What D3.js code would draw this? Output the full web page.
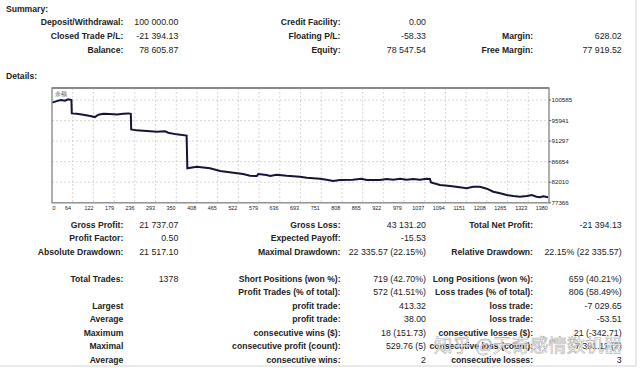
<!DOCTYPE html>
<html>
<head>
<meta charset="utf-8">
<script src="https://cdn.jsdelivr.net/npm/d3@7"></script>
<style>
  body { margin: 0; background: #fff; }
  svg text { font-family: "Liberation Sans", Arial, sans-serif; fill: #222; }
  .lbl { font-weight: bold; }
</style>
</head>
<body>
<svg width="640" height="370"></svg>
<script>
// balance curve: trade number -> balance
var tradeNo = [0, 13, 24, 36, 45, 54, 55, 69, 87, 106, 119, 129, 143, 161, 180, 198, 212, 219,
  220, 235, 263, 291, 314, 323, 346, 374, 376, 402, 439, 467, 504, 531, 550, 569, 573, 596, 606,
  624, 652, 689, 708, 744, 763, 781, 800, 836, 860, 874, 911, 930, 948, 967, 985, 1004, 1022,
  1041, 1050, 1053, 1078, 1106, 1133, 1152, 1170, 1189, 1208, 1226, 1245, 1263, 1282, 1300,
  1319, 1333, 1346, 1356, 1365, 1378];
var balance = [100000, 100342, 100568, 100410, 100726, 100568, 97566, 97476, 97250, 96957, 96731,
  97250, 97476, 97408, 97340, 97476, 97566, 97476, 93955, 93729, 93571, 93413, 93503, 93188,
  92826, 92556, 85153, 85514, 85153, 84543, 84160, 83866, 83482, 83415, 83866, 83640, 83415,
  83708, 83482, 83257, 83031, 82805, 82580, 82286, 82512, 82580, 82805, 82512, 82512, 82738,
  82580, 82805, 82580, 82738, 82580, 82805, 82738, 81948, 81383, 81158, 80864, 80639, 81000,
  81000, 80548, 79871, 79510, 79126, 78901, 78743, 78901, 79126, 78743, 78607, 78833, 78606];

var xTicks = [0, 64, 122, 179, 236, 293, 350, 408, 465, 522, 579, 636, 693, 751, 808, 865, 922,
  979, 1037, 1094, 1151, 1208, 1265, 1323, 1380];
var yTicks = [77366, 82010, 86654, 91297, 95941, 100585];

// summary block: three columns of label / value
var sumLabels1 = ["Deposit/Withdrawal:", "Closed Trade P/L:", "Balance:"];
var sumValues1 = ["100 000.00", "-21 394.13", "78 605.87"];
var sumLabels2 = ["Credit Facility:", "Floating P/L:", "Equity:"];
var sumValues2 = ["0.00", "-58.33", "78 547.54"];
var sumLabels3 = ["", "Margin:", "Free Margin:"];
var sumValues3 = ["", "628.02", "77 919.52"];

// details block
var detLabels1 = ["Gross Profit:", "Profit Factor:", "Absolute Drawdown:", "Total Trades:", "",
  "Largest", "Average", "Maximum", "Maximal", "Average"];
var detValues1 = ["21 737.07", "0.50", "21 517.10", "1378", "", "", "", "", "", ""];
var detLabels2 = ["Gross Loss:", "Expected Payoff:", "Maximal Drawdown:", "Short Positions (won %):",
  "Profit Trades (% of total):", "profit trade:", "profit trade:", "consecutive wins ($):",
  "consecutive profit (count):", "consecutive wins:"];
var detValues2 = ["43 131.20", "-15.53", "22 335.57 (22.15%)", "719 (42.70%)", "572 (41.51%)",
  "413.32", "38.00", "18 (151.73)", "529.76 (5)", "2"];
var detLabels3 = ["Total Net Profit:", "", "Relative Drawdown:", "Long Positions (won %):",
  "Loss trades (% of total):", "loss trade:", "loss trade:", "consecutive losses ($):",
  "consecutive loss (count):", "consecutive losses:"];
var detValues3 = ["-21 394.13", "", "22.15% (22 335.57)", "659 (40.21%)", "806 (58.49%)",
  "-7 029.65", "-53.51", "21 (-342.71)", "-7 391.11 (2)", "3"];
var detRowY = [227.8, 241.3, 255, 281.7, 295.2, 308.7, 322.2, 335.7, 349.2, 362.7];
var sumRowY = [25.3, 38.9, 52.6];

var svg = d3.select("svg");

// light frame lines at right and bottom
svg.append("line").attr("x1", 636).attr("x2", 636).attr("y1", 0).attr("y2", 366)
  .attr("stroke", "#d4d4d4");
svg.append("line").attr("x1", 0).attr("x2", 636).attr("y1", 366).attr("y2", 366)
  .attr("stroke", "#d4d4d4");

svg.append("text").attr("class", "lbl").attr("x", 6).attr("y", 12.3)
  .style("font-size", "8.6px").text("Summary:");
svg.append("text").attr("class", "lbl").attr("x", 6).attr("y", 79)
  .style("font-size", "8.6px").text("Details:");

// label right edge, value right edge, for each column
function column(labels, values, rowY, labX, valX) {
  labels.forEach(function (t, i) {
    if (t) svg.append("text").attr("class", "lbl").attr("x", labX).attr("y", rowY[i])
      .attr("text-anchor", "end").style("font-size", "8.6px").text(t);
  });
  values.forEach(function (t, i) {
    if (t) svg.append("text").attr("x", valX).attr("y", rowY[i])
      .attr("text-anchor", "end").style("font-size", "8.8px").text(t);
  });
}
column(sumLabels1, sumValues1, sumRowY, 123.3, 178.3);
column(sumLabels2, sumValues2, sumRowY, 340.5, 426);
column(sumLabels3, sumValues3, sumRowY, 533, 621.7);
column(detLabels1, detValues1, detRowY, 123.3, 178.3);
column(detLabels2, detValues2, detRowY, 340.5, 426);
column(detLabels3, detValues3, detRowY, 533, 621.7);

// chart (names avoid window.top)
var cLeft = 52, cRight = 549, cTop = 88, cBottom = 202.8;
var x = d3.scaleLinear().domain([0, 1378]).range([cLeft, 548]);
var y = d3.scaleLinear().domain([77366, 103300]).range([cBottom, cTop]);

var grid = svg.append("g").attr("stroke", "#cdcdcd").attr("stroke-dasharray", "2,2")
  .attr("stroke-width", 0.8);
d3.range(1, 24).forEach(function (k) {
  var gx = cLeft + k * (cRight - cLeft) / 24;
  grid.append("line").attr("x1", gx).attr("x2", gx).attr("y1", cTop).attr("y2", cBottom);
});
yTicks.slice(1).forEach(function (v) {
  grid.append("line").attr("x1", cLeft).attr("x2", cRight).attr("y1", y(v)).attr("y2", y(v));
});

svg.append("path")
  .datum(tradeNo.map(function (t, i) { return [t, balance[i]]; }))
  .attr("fill", "none")
  .attr("stroke", "#14143a")
  .attr("stroke-width", 2)
  .attr("d", d3.line().x(function (d) { return x(d[0]); }).y(function (d) { return y(d[1]); }));

svg.append("rect").attr("x", cLeft).attr("y", cTop)
  .attr("width", cRight - cLeft).attr("height", cBottom - cTop)
  .attr("fill", "none").attr("stroke", "#8a8a8a").attr("stroke-width", 1.4);
svg.append("line").attr("x1", cLeft).attr("x2", cRight).attr("y1", cTop).attr("y2", cTop)
  .attr("stroke", "#8a8a8a").attr("stroke-width", 2.2);

svg.append("text").attr("x", 55).attr("y", 95.5).style("font-size", "6px")
  .style("fill", "#555").text("余额");

// axis labels
svg.append("g").selectAll("text").data(xTicks).enter().append("text")
  .attr("x", function (d) { return Math.max(54, x(d) - 7); })
  .attr("y", 209.5)
  .attr("text-anchor", "middle")
  .style("font-size", "5.4px")
  .text(function (d) { return d; });

var ya = svg.append("g");
ya.selectAll("line").data(yTicks).enter().append("line")
  .attr("x1", cRight).attr("x2", cRight + 2)
  .attr("y1", function (d) { return y(d); }).attr("y2", function (d) { return y(d); })
  .attr("stroke", "#666");
ya.selectAll("text").data(yTicks).enter().append("text")
  .attr("x", 551.5)
  .attr("y", function (d) { return y(d) + 2.2; })
  .style("font-size", "6.2px")
  .text(function (d) { return d; });

// watermark over the lower right rows
svg.append("text").attr("x", 434).attr("y", 352)
  .style("font-family", "'Noto Sans CJK SC', sans-serif")
  .style("font-size", "18.5px")
  .style("fill", "#ffffff").style("fill-opacity", 0.75)
  .style("stroke", "#9a9a9a").style("stroke-width", 0.6).style("stroke-opacity", 0.8)
  .text("知乎 @天奇感情数机器");
</script>
</body>
</html>
